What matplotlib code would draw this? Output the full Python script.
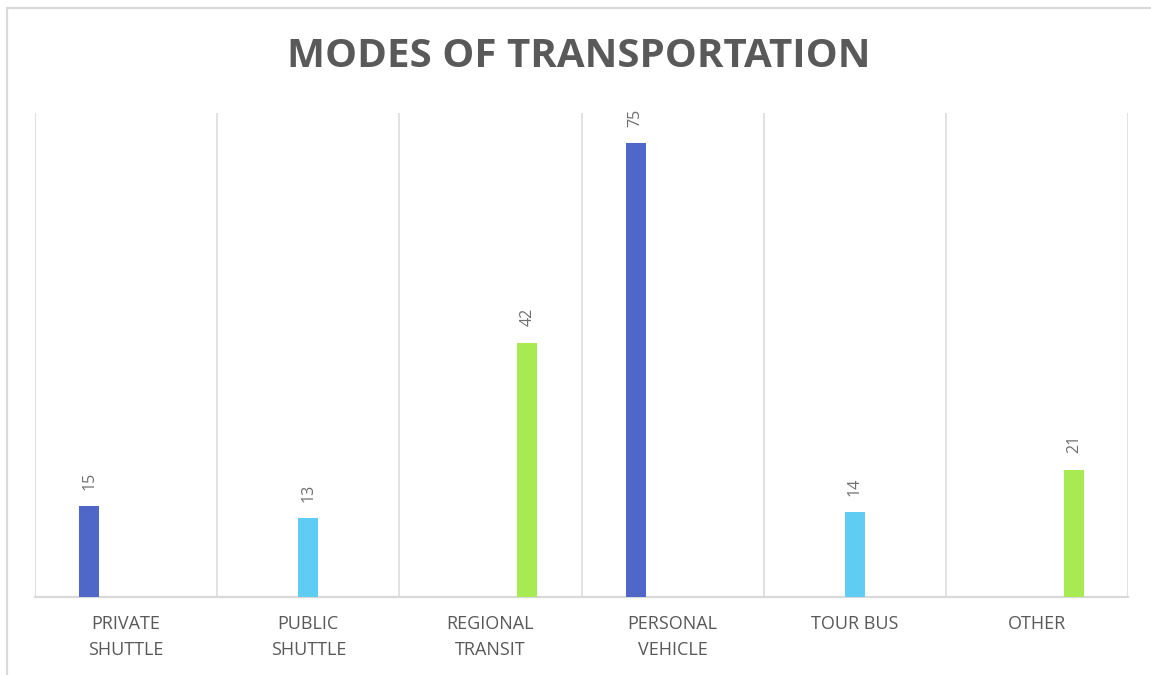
import matplotlib
matplotlib.use("Agg")
import matplotlib.pyplot as plt
import numpy as np
from matplotlib.lines import Line2D

plt.rcParams["font.family"] = ["Open Sans", "DejaVu Sans"]

# ── data ──────────────────────────────────────────────────────────────────────
categories = ["PRIVATE\nSHUTTLE", "PUBLIC\nSHUTTLE", "REGIONAL\nTRANSIT",
              "PERSONAL\nVEHICLE", "TOUR BUS", "OTHER"]
values = [15, 13, 42, 75, 14, 21]
series_idx = [0, 1, 2, 0, 1, 2]          # which series slot each bar sits in
series_colors = ["#4E67C8", "#5ECCF3", "#A7EA52"]

GRID = "#d9d9d9"
TXT = "#595959"

fig = plt.figure(figsize=(11.51, 6.75), dpi=100, facecolor="white")
ax = fig.add_axes([35/1151, 1-597/675, (1128-35)/1151, (597-113)/675])

x = np.arange(len(categories))
offsets = np.array([-0.203, 0.0, 0.203])
bar_w = 0.11
xpos = x + offsets[series_idx]
colors = [series_colors[s] for s in series_idx]
bars = ax.bar(xpos, values, width=bar_w, color=colors, zorder=3)

for b, v in zip(bars, values):
    ax.annotate(f"{v}", (b.get_x() + b.get_width()/2, v), xytext=(0, 12),
                textcoords="offset points", rotation=90, ha="center", va="bottom",
                fontsize=11.5, color="#6f6f6f")

ax.set_xlim(-0.5, len(categories) - 0.5)
ax.set_ylim(0, 80)
for b in np.arange(-0.5, len(categories), 1.0):
    ax.axvline(b, color=GRID, lw=1.1, zorder=1)

for s in ["top", "right", "left"]:
    ax.spines[s].set_visible(False)
ax.spines["bottom"].set_color(GRID)
ax.spines["bottom"].set_linewidth(1.6)
ax.set_yticks([])
ax.set_xticks(x)
ax.set_xticklabels(categories, fontsize=13, color=TXT, linespacing=1.55)
ax.tick_params(axis="x", length=0, pad=13)

fig.text(0.503, 0.917, "MODES OF TRANSPORTATION", ha="center", va="center",
         fontsize=29, fontweight="bold", color=TXT)

# chart frame (only left and top edges visible)
fig.add_artist(Line2D([6.5/1151, 6.5/1151, 1.0], [0, 1-8/675, 1-8/675],
                      transform=fig.transFigure, color=GRID, lw=1.6))

fig.savefig("out.png", dpi=100, facecolor="white")
